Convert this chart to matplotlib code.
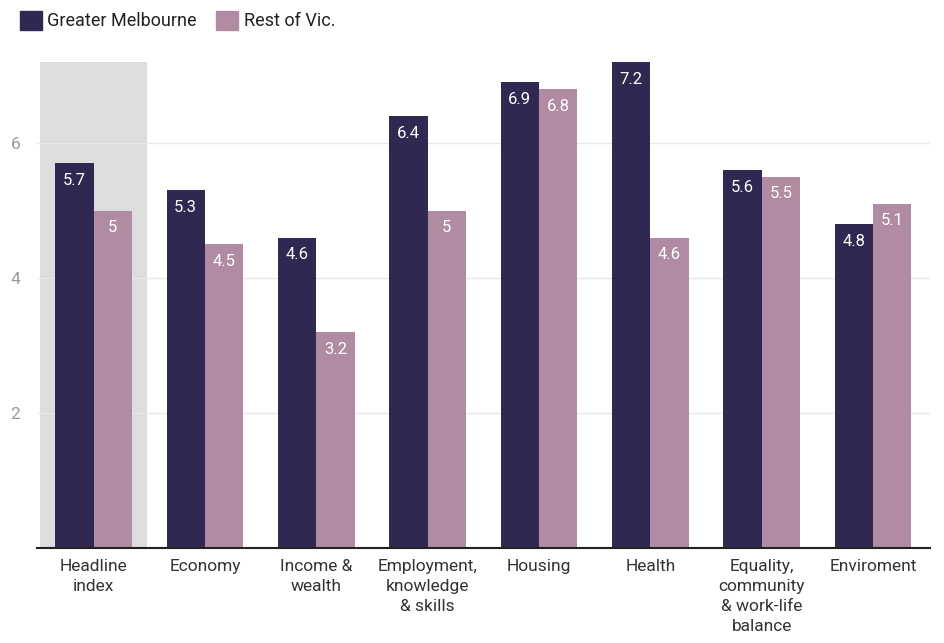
import numpy as np
import matplotlib
matplotlib.use("Agg")
import matplotlib.pyplot as plt
from matplotlib.patches import Patch

plt.rcParams['font.family'] = ['Roboto', 'DejaVu Sans']

categories = [
    "Headline\nindex", "Economy", "Income &\nwealth",
    "Employment,\nknowledge\n& skills", "Housing", "Health",
    "Equality,\ncommunity\n& work-life\nbalance", "Enviroment",
]
melbourne = [5.7, 5.3, 4.6, 6.4, 6.9, 7.2, 5.6, 4.8]
rest_vic = [5, 4.5, 3.2, 5, 6.8, 4.6, 5.5, 5.1]
series_names = ["Greater Melbourne", "Rest of Vic."]
yticks = [2, 4, 6]

dark = "#312851"
pink = "#b08ba3"

fig = plt.figure(figsize=(9.44, 6.43), dpi=100)
ax = fig.add_axes([0.039, 0.1477, 0.946, 0.766])

x = np.arange(len(categories))
w = 0.345

# shaded background behind the headline group
ax.bar(0, max(max(melbourne), max(rest_vic)), width=0.955, color="#dddddd", zorder=0)

b1 = ax.bar(x - w / 2, melbourne, width=w, color=dark, zorder=2)
b2 = ax.bar(x + w / 2, rest_vic, width=w, color=pink, zorder=2)

# value labels sit just inside the top of each bar
for bars, vals in ((b1, melbourne), (b2, rest_vic)):
    for r, v in zip(bars, vals):
        ax.annotate(f"{v:g}", (r.get_x() + r.get_width() / 2, v),
                    xytext=(0, -17), textcoords="offset pixels",
                    ha="center", va="center", color="white", fontsize=12, zorder=3)

ax.set_xlim(-0.51, len(categories) - 0.49)
ax.set_ylim(0, 7.3)
ax.set_yticks(yticks)
ax.set_yticklabels([str(t) for t in yticks], color="#9a9a9a", fontsize=12.5)
ax.set_xticks(x)
ax.set_xticklabels(categories, fontsize=12.5, color="#333333", linespacing=1.4, va="top")
ax.tick_params(axis="both", length=0)
ax.tick_params(axis="x", pad=8)
ax.tick_params(axis="y", pad=12)
ax.grid(axis="y", color="#e8e8e8", linewidth=1, zorder=1)
ax.set_axisbelow(True)
for s in ("top", "right", "left"):
    ax.spines[s].set_visible(False)
ax.spines["bottom"].set_color("#222222")
ax.spines["bottom"].set_linewidth(1.5)
ax.spines["bottom"].set_zorder(4)

handles = [Patch(color=dark), Patch(color=pink)]
fig.legend(handles, series_names, loc="upper left", bbox_to_anchor=(0.004, 1.008),
           ncol=2, frameon=False, fontsize=13, handlelength=1.2, handleheight=1.2,
           handletextpad=0.3, columnspacing=1.1, labelcolor="#222222")

fig.savefig("out.png", dpi=100)
